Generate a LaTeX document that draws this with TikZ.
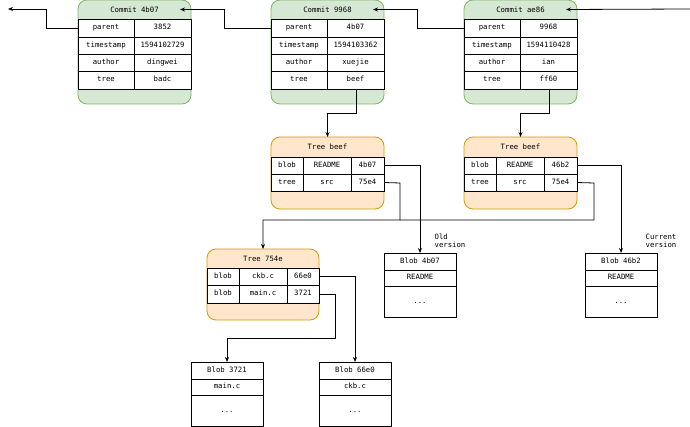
\documentclass[tikz,border=0pt]{standalone}
\usepackage{fontspec}
\setmonofont{DejaVu Sans Mono}
\usetikzlibrary{arrows.meta}
\begin{document}
\begin{tikzpicture}[x=1pt,y=-1pt,
  every node/.style={font=\ttfamily\fontsize{7.3}{8.5}\selectfont,inner sep=0pt,outer sep=0pt},
  cell/.style={draw=black,fill=white,line width=0.8pt,rectangle,anchor=north west,text height=5.4pt,text depth=1.6pt},
  cbox/.style={draw={rgb,255:red,130;green,179;blue,102},fill={rgb,255:red,213;green,232;blue,212},rounded corners=9pt,line width=0.8pt},
  tbox/.style={draw={rgb,255:red,215;green,155;blue,0},fill={rgb,255:red,255;green,230;blue,204},rounded corners=9pt,line width=0.8pt},
  conn/.style={line width=0.8pt,-{Stealth[length=5pt,width=4pt]}},
  note/.style={align=left}]
\useasboundingbox (0,0) rectangle (690,427);
\newcommand\cellbox[6]{\node[cell,minimum width={((#4)-(#2))*1pt},minimum height={((#5)-(#3))*1pt}] (#1) at ({#2},{#3}) {#6};}
% ---------- commits ----------
\foreach \n/\X/\D/\T/\P/\S/\A/\R in {ca/78/134/4b07/3852/1594102729/dingwei/badc, cb/271/327/9968/4b07/1594103362/xuejie/beef, cc/464/520/ae86/9968/1594110428/ian/ff60}{
  \node[cbox,anchor=north west,minimum width=113pt,minimum height=104pt] (\n) at (\X,0) {};
  \node[anchor=center,minimum width=113pt,minimum height=19pt] (\n h) at ({\X+56.5},9.5) {Commit \T};
  \cellbox{\n p1}{\X}{19}{\D}{37}{parent}
  \cellbox{\n p2}{\D}{19}{\X+113}{37}{\P}
  \cellbox{\n s1}{\X}{37}{\D}{54}{timestamp}
  \cellbox{\n s2}{\D}{37}{\X+113}{54}{\S}
  \cellbox{\n a1}{\X}{54}{\D}{71}{author}
  \cellbox{\n a2}{\D}{54}{\X+113}{71}{\A}
  \cellbox{\n t1}{\X}{71}{\D}{89}{tree}
  \cellbox{\n t2}{\D}{71}{\X+113}{89}{\R}
}
% ---------- trees ----------
\foreach \n/\X/\D/\E/\V in {ta/271/303/351/4b07, tb/464/496/544/46b2}{
  \node[tbox,anchor=north west,minimum width=113pt,minimum height=72pt] (\n) at (\X,137) {};
  \node[minimum width=113pt,minimum height=20pt] (\n h) at ({\X+56.5},147) {Tree beef};
  \cellbox{\n r1a}{\X}{157}{\D}{174}{blob}
  \cellbox{\n r1b}{\D}{157}{\E}{174}{README}
  \cellbox{\n r1c}{\E}{157}{\X+113}{174}{\V}
  \cellbox{\n r2a}{\X}{174}{\D}{191}{tree}
  \cellbox{\n r2b}{\D}{174}{\E}{191}{src}
  \cellbox{\n r2c}{\E}{174}{\X+113}{191}{75e4}
}
\node[tbox,anchor=north west,minimum width=112pt,minimum height=71pt] (tc) at (207,249) {};
\node[minimum width=112pt,minimum height=19pt] (tch) at (263,258.5) {Tree 754e};
\cellbox{tcr1a}{207}{268}{239}{285}{blob}
\cellbox{tcr1b}{239}{268}{287}{285}{ckb.c}
\cellbox{tcr1c}{287}{268}{319}{285}{66e0}
\cellbox{tcr2a}{207}{285}{239}{303}{blob}
\cellbox{tcr2b}{239}{285}{287}{303}{main.c}
\cellbox{tcr2c}{287}{285}{319}{303}{3721}
% ---------- blobs ----------
\foreach \n/\X/\Y/\T/\F in {ba/384/253/4b07/README, bb/585/253/46b2/README, bc/191/362/3721/main.c, bd/319/362/66e0/ckb.c}{
  \cellbox{\n h}{\X}{\Y}{\X+72}{\Y+17}{Blob \T}
  \cellbox{\n f}{\X}{\Y+17}{\X+72}{\Y+33}{\F}
  \cellbox{\n d}{\X}{\Y+33}{\X+72}{\Y+64.5}{...}
}
\node[note] (old) at (450,241) {Old\\version};
\node[note] (cur) at (661,241) {Current\\version};
% ---------- connectors ----------
\coordinate (lend) at (8,9);
\coordinate (rstart) at (690,9);
\draw[conn] (cap1.west) -| (46,9) -- (lend);
\draw[conn] (cbp1.west) -- (224,28) |- ([xshift=-11pt]cah.east);
\draw[conn] (ccp1.west) -- (417,28) |- ([xshift=-11pt]cbh.east);
\draw[conn] (rstart) -- ([xshift=-11pt]cch.east);
\draw[conn] ([xshift=1pt]cbt2.south) -- ++(0,24) -| (tah.north);
\draw[conn] ([xshift=1pt]cct2.south) -- ++(0,24) -| (tbh.north);
\draw[conn] (tar1c.east) -| (bah.north);
\draw[conn] (tbr1c.east) -| (bbh.north);
\draw[conn] (tar2c.east) -- (400,183) |- (263,220) -- (tch.north);
\draw[line width=0.8pt] (tbr2c.east) -- (594,183) |- (400,220);
\draw[conn] (tcr1c.east) -| (bdh.north);
\draw[conn] (tcr2c.east) -- (335,294) |- (227,338) -- (bch.north);
\end{tikzpicture}
\end{document}
